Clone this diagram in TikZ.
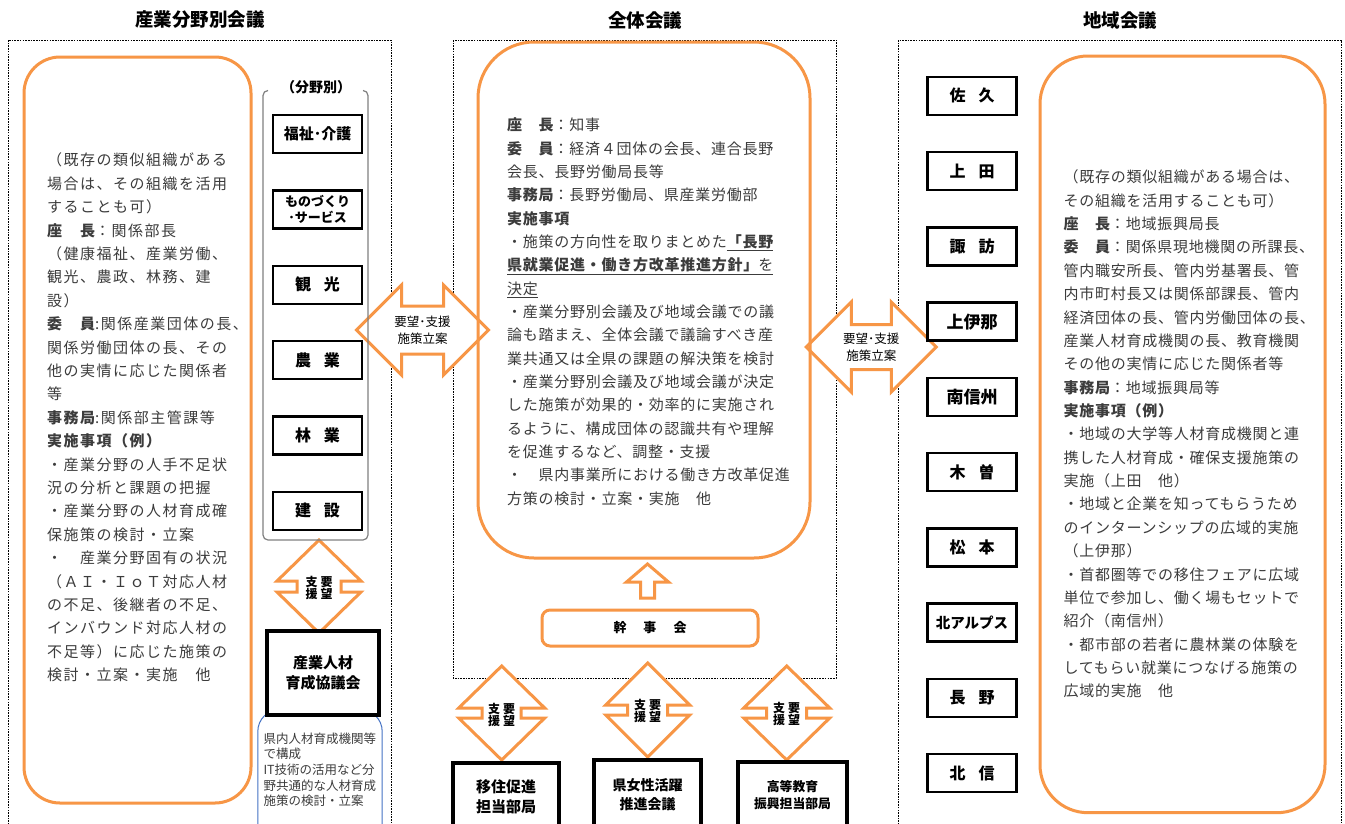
\documentclass[tikz,border=0pt]{standalone}
\usepackage{fontspec}
\setmainfont{Noto Sans CJK JP}
\newfontfamily\jpA[LetterSpace=10]{Noto Sans CJK JP}
\newfontfamily\jpB[LetterSpace=5]{Noto Sans CJK JP}
\definecolor{org}{RGB}{247,150,70}
\definecolor{blu}{RGB}{68,114,196}
\definecolor{txt}{RGB}{60,60,60}
\tikzset{
  frm/.style={line width=0.7pt, dash pattern=on 1.6pt off 1.1pt},
  obox/.style={draw=org, line width=3pt, inner sep=0pt},
  barrow/.style={draw=org, line width=3pt, fill=white, line join=miter, miter limit=10},
  kb/.style={draw=black, line width=2.5pt, fill=white, minimum width=89pt, minimum height=38pt, inner sep=0pt, align=center},
  kbb/.style={draw=black, line width=4pt, fill=white, inner sep=0pt, align=center},
  ttl/.style={font=\bfseries\fontsize{18.5}{20}\selectfont, inner sep=0pt},
  lab/.style={font=\bfseries\fontsize{16}{18}\selectfont},
  para/.style={anchor=north west, inner sep=0pt, align=left, text=txt},
  arrlab/.style={inner sep=0pt, align=center, font=\bfseries\fontsize{12}{12.5}\selectfont},
}
\newcommand{\vdarr}[6]{% cx cy H L W s
  \draw[barrow] (#1,{#2-#3}) -- ({#1+#5},{#2-#3+#4}) -- ({#1+#6},{#2-#3+#4}) -- ({#1+#6},{#2+#3-#4}) -- ({#1+#5},{#2+#3-#4}) -- (#1,{#2+#3}) -- ({#1-#5},{#2+#3-#4}) -- ({#1-#6},{#2+#3-#4}) -- ({#1-#6},{#2-#3+#4}) -- ({#1-#5},{#2-#3+#4}) -- cycle;}
\newcommand{\hdarr}[6]{% cx cy W L H h
  \draw[barrow] ({#1-#3},#2) -- ({#1-#3+#4},{#2-#5}) -- ({#1-#3+#4},{#2-#6}) -- ({#1+#3-#4},{#2-#6}) -- ({#1+#3-#4},{#2-#5}) -- ({#1+#3},#2) -- ({#1+#3-#4},{#2+#5}) -- ({#1+#3-#4},{#2+#6}) -- ({#1-#3+#4},{#2+#6}) -- ({#1-#3+#4},{#2+#5}) -- cycle;}
\begin{document}
\begin{tikzpicture}[x=1pt,y=-1pt]
\useasboundingbox (0,0) rectangle (1345,823);
\fill[white] (0,0) rectangle (1345,823);

% titles
\node[ttl] (t1) at (200,20) {産業分野別会議};
\node[ttl] (t2) at (645,20) {全体会議};
\node[ttl] (t3) at (1120,20) {地域会議};

% dashed frames
\draw[frm] (8,830) -- (8,40) -- (391,40) -- (391,830);
\draw[frm] (453,40) rectangle (836,678);
\draw[frm] (898.5,830) -- (898.5,40) -- (1341,40) -- (1341,830);

% block arrows
\hdarr{422.5}{330}{66}{45}{45}{24}
\hdarr{871.3}{347}{65}{45}{45}{22.5}
\vdarr{319}{586.5}{46.5}{41}{42}{22}
\vdarr{501.7}{713}{47}{42}{43}{19.5}
\vdarr{647.7}{710}{47}{42}{42}{20}
\vdarr{786.7}{713}{47}{42}{43}{20}
\draw[barrow] (647.5,564) -- (668.5,582) -- (654.5,582) -- (654.5,598) -- (640.5,598) -- (640.5,582) -- (626.5,582) -- cycle;

\node[inner sep=0pt, align=center, font=\fontsize{12.5}{16.6}\selectfont] (a1) at (422.5,330) {要望･支援\\施策立案};
\node[inner sep=0pt, align=center, font=\fontsize{12.5}{16.6}\selectfont] (a2) at (871.3,347) {要望･支援\\施策立案};
\node[arrlab] (v1) at (319,588) {支\hspace{3pt}要\\援\hspace{3pt}望};
\node[arrlab] (v2) at (501.7,715) {支\hspace{3pt}要\\援\hspace{3pt}望};
\node[arrlab] (v3) at (647.7,711) {支\hspace{3pt}要\\援\hspace{3pt}望};
\node[arrlab] (v4) at (786.7,714) {支\hspace{3pt}要\\援\hspace{3pt}望};

% orange big boxes
\node[obox, rounded corners=36pt, minimum width=227pt, minimum height=746pt] (lbox) at (137.5,430) {};
\node[obox, rounded corners=56pt, minimum width=332pt, minimum height=516pt] (mbox) at (644,300) {};
\node[obox, rounded corners=48pt, minimum width=285pt, minimum height=756.7pt] (rbox) at (1182.5,434.35) {};
\node[obox, rounded corners=8pt, minimum width=216pt, minimum height=36pt, font=\bfseries\fontsize{13}{15}\selectfont] (kanji) at (650,628) {幹\hspace{17pt}事\hspace{17pt}会};

% bracket of sector column
\draw[gray, line width=1.2pt, rounded corners=5pt] (268,90.5) -- (263,90.5) -- (263,540) -- (368,540) -- (368,90.5) -- (363,90.5);
\node[fill=white, inner sep=1pt, font=\bfseries\fontsize{14}{16}\selectfont] (bunya) at (316,87) {（分野別）};

% sector boxes
\node[kb, font=\bfseries\fontsize{15}{17}\selectfont] (s1) at (317.5,134) {福祉･介護};
\node[kb, font=\bfseries\fontsize{13}{16.6}\selectfont] (s2) at (317.5,209.4) {ものづくり\\･サービス};
\node[kb, lab] (s3) at (317.5,284.8) {観\hspace{13pt}光};
\node[kb, lab] (s4) at (317.5,360.2) {農\hspace{13pt}業};
\node[kb, lab] (s5) at (317.5,435.6) {林\hspace{13pt}業};
\node[kb, lab] (s6) at (317.5,511) {建\hspace{13pt}設};

% blue note box and council box
\node[draw=blu, line width=1pt, rounded corners=22pt, minimum width=124.4pt, minimum height=140pt, anchor=north west, inner sep=0pt] (note) at (257.3,709) {};
\node[kbb, minimum width=112.6pt, minimum height=84pt, font=\bfseries\fontsize{15}{20}\selectfont] (kyo) at (323,673) {産業人材\\育成協議会};
\node[para, text=txt, font=\fontsize{12.5}{15.7}\selectfont] (notetext) at (263.3,731.2) {\rule{0pt}{11.6pt}県内人材育成機関等\\で構成\\IT技術の活用など分\\野共通的な人材育成\\施策の検討・立案};

% bottom boxes
\node[kbb, minimum width=106pt, minimum height=68pt, font=\bfseries\fontsize{15}{20.3}\selectfont] (iju) at (506,797) {移住促進\\担当部局};
\node[kbb, minimum width=107pt, minimum height=69pt, font=\bfseries\fontsize{14}{19}\selectfont] (josei) at (647.5,794.5) {県女性活躍\\推進会議};
\node[kbb, minimum width=109pt, minimum height=66pt, font=\bfseries\fontsize{12.8}{16.5}\selectfont] (koto) at (792.5,795) {高等教育\\振興担当部局};

% region boxes
\foreach \n/\t [count=\i from 0] in {r1/佐\hspace{13pt}久, r2/上\hspace{13pt}田, r3/諏\hspace{13pt}訪, r4/{\fontsize{17}{18}\selectfont 上伊那}, r5/{\fontsize{17}{18}\selectfont 南信州}, r6/木\hspace{13pt}曽, r7/松\hspace{13pt}本, r8/{\fontsize{14.5}{16}\selectfont 北アルプス}, r9/長\hspace{13pt}野, r10/北\hspace{13pt}信}
  \node[kb, lab] (\n) at (972,{95.9+75.25*\i}) {\t};

% paragraph texts
\node[para, font=\jpA\fontsize{15}{23.4}\selectfont] (ltext) at (47,151.75) {\rule{0pt}{14pt}（既存の類似組織がある\\
場合は、その組織を活用\\
することも可）\\
{\bfseries 座　長}：関係部長\\
（健康福祉、産業労働、\\
観光、農政、林務、建\\
設）\\
{\bfseries 委　員}:関係産業団体の長、\\
関係労働団体の長、その\\
他の実情に応じた関係者\\
等\\
{\bfseries 事務局}:関係部主管課等\\
{\bfseries 実施事項（例）}\\
・産業分野の人手不足状\\
況の分析と課題の把握\\
・産業分野の人材育成確\\
保施策の検討・立案\\
・　産業分野固有の状況\\
（ＡＩ・ＩｏＴ対応人材\\
の不足、後継者の不足、\\
インバウンド対応人材の\\
不足等）に応じた施策の\\
検討・立案・実施　他};

\node[para, font=\jpB\fontsize{15}{23.33}\selectfont] (mtext) at (507,116.7) {\rule{0pt}{14pt}{\bfseries 座　長}：知事\\
{\bfseries 委　員}：経済４団体の会長、連合長野\\
会長、長野労働局長等\\
{\bfseries 事務局}：長野労働局、県産業労働部\\
{\bfseries 実施事項}\\
・施策の方向性を取りまとめた\underline{\bfseries 「長野}\\
\underline{{\bfseries 県就業促進・働き方改革推進方針」}を}\\
\underline{決定}\\
・産業分野別会議及び地域会議での議\\
論も踏まえ、全体会議で議論すべき産\\
業共通又は全県の課題の解決策を検討\\
・産業分野別会議及び地域会議が決定\\
した施策が効果的・効率的に実施され\\
るように、構成団体の認識共有や理解\\
を促進するなど、調整・支援\\
・　県内事業所における働き方改革促進\\
方策の検討・立案・実施　他};

\node[para, font=\jpB\fontsize{15}{23.36}\selectfont] (rtext) at (1063.3,168.7) {\rule{0pt}{14pt}（既存の類似組織がある場合は、\\
その組織を活用することも可）\\
{\bfseries 座　長}：地域振興局長\\
{\bfseries 委　員}：関係県現地機関の所課長、\\
管内職安所長、管内労基署長、管\\
内市町村長又は関係部課長、管内\\
経済団体の長、管内労働団体の長、\\
産業人材育成機関の長、教育機関\\
その他の実情に応じた関係者等\\
{\bfseries 事務局}：地域振興局等\\
{\bfseries 実施事項（例）}\\
・地域の大学等人材育成機関と連\\
携した人材育成・確保支援施策の\\
実施（上田　他）\\
・地域と企業を知ってもらうため\\
のインターンシップの広域的実施\\
（上伊那）\\
・首都圏等での移住フェアに広域\\
単位で参加し、働く場もセットで\\
紹介（南信州）\\
・都市部の若者に農林業の体験を\\
してもらい就業につなげる施策の\\
広域的実施　他};
\end{tikzpicture}
\end{document}
